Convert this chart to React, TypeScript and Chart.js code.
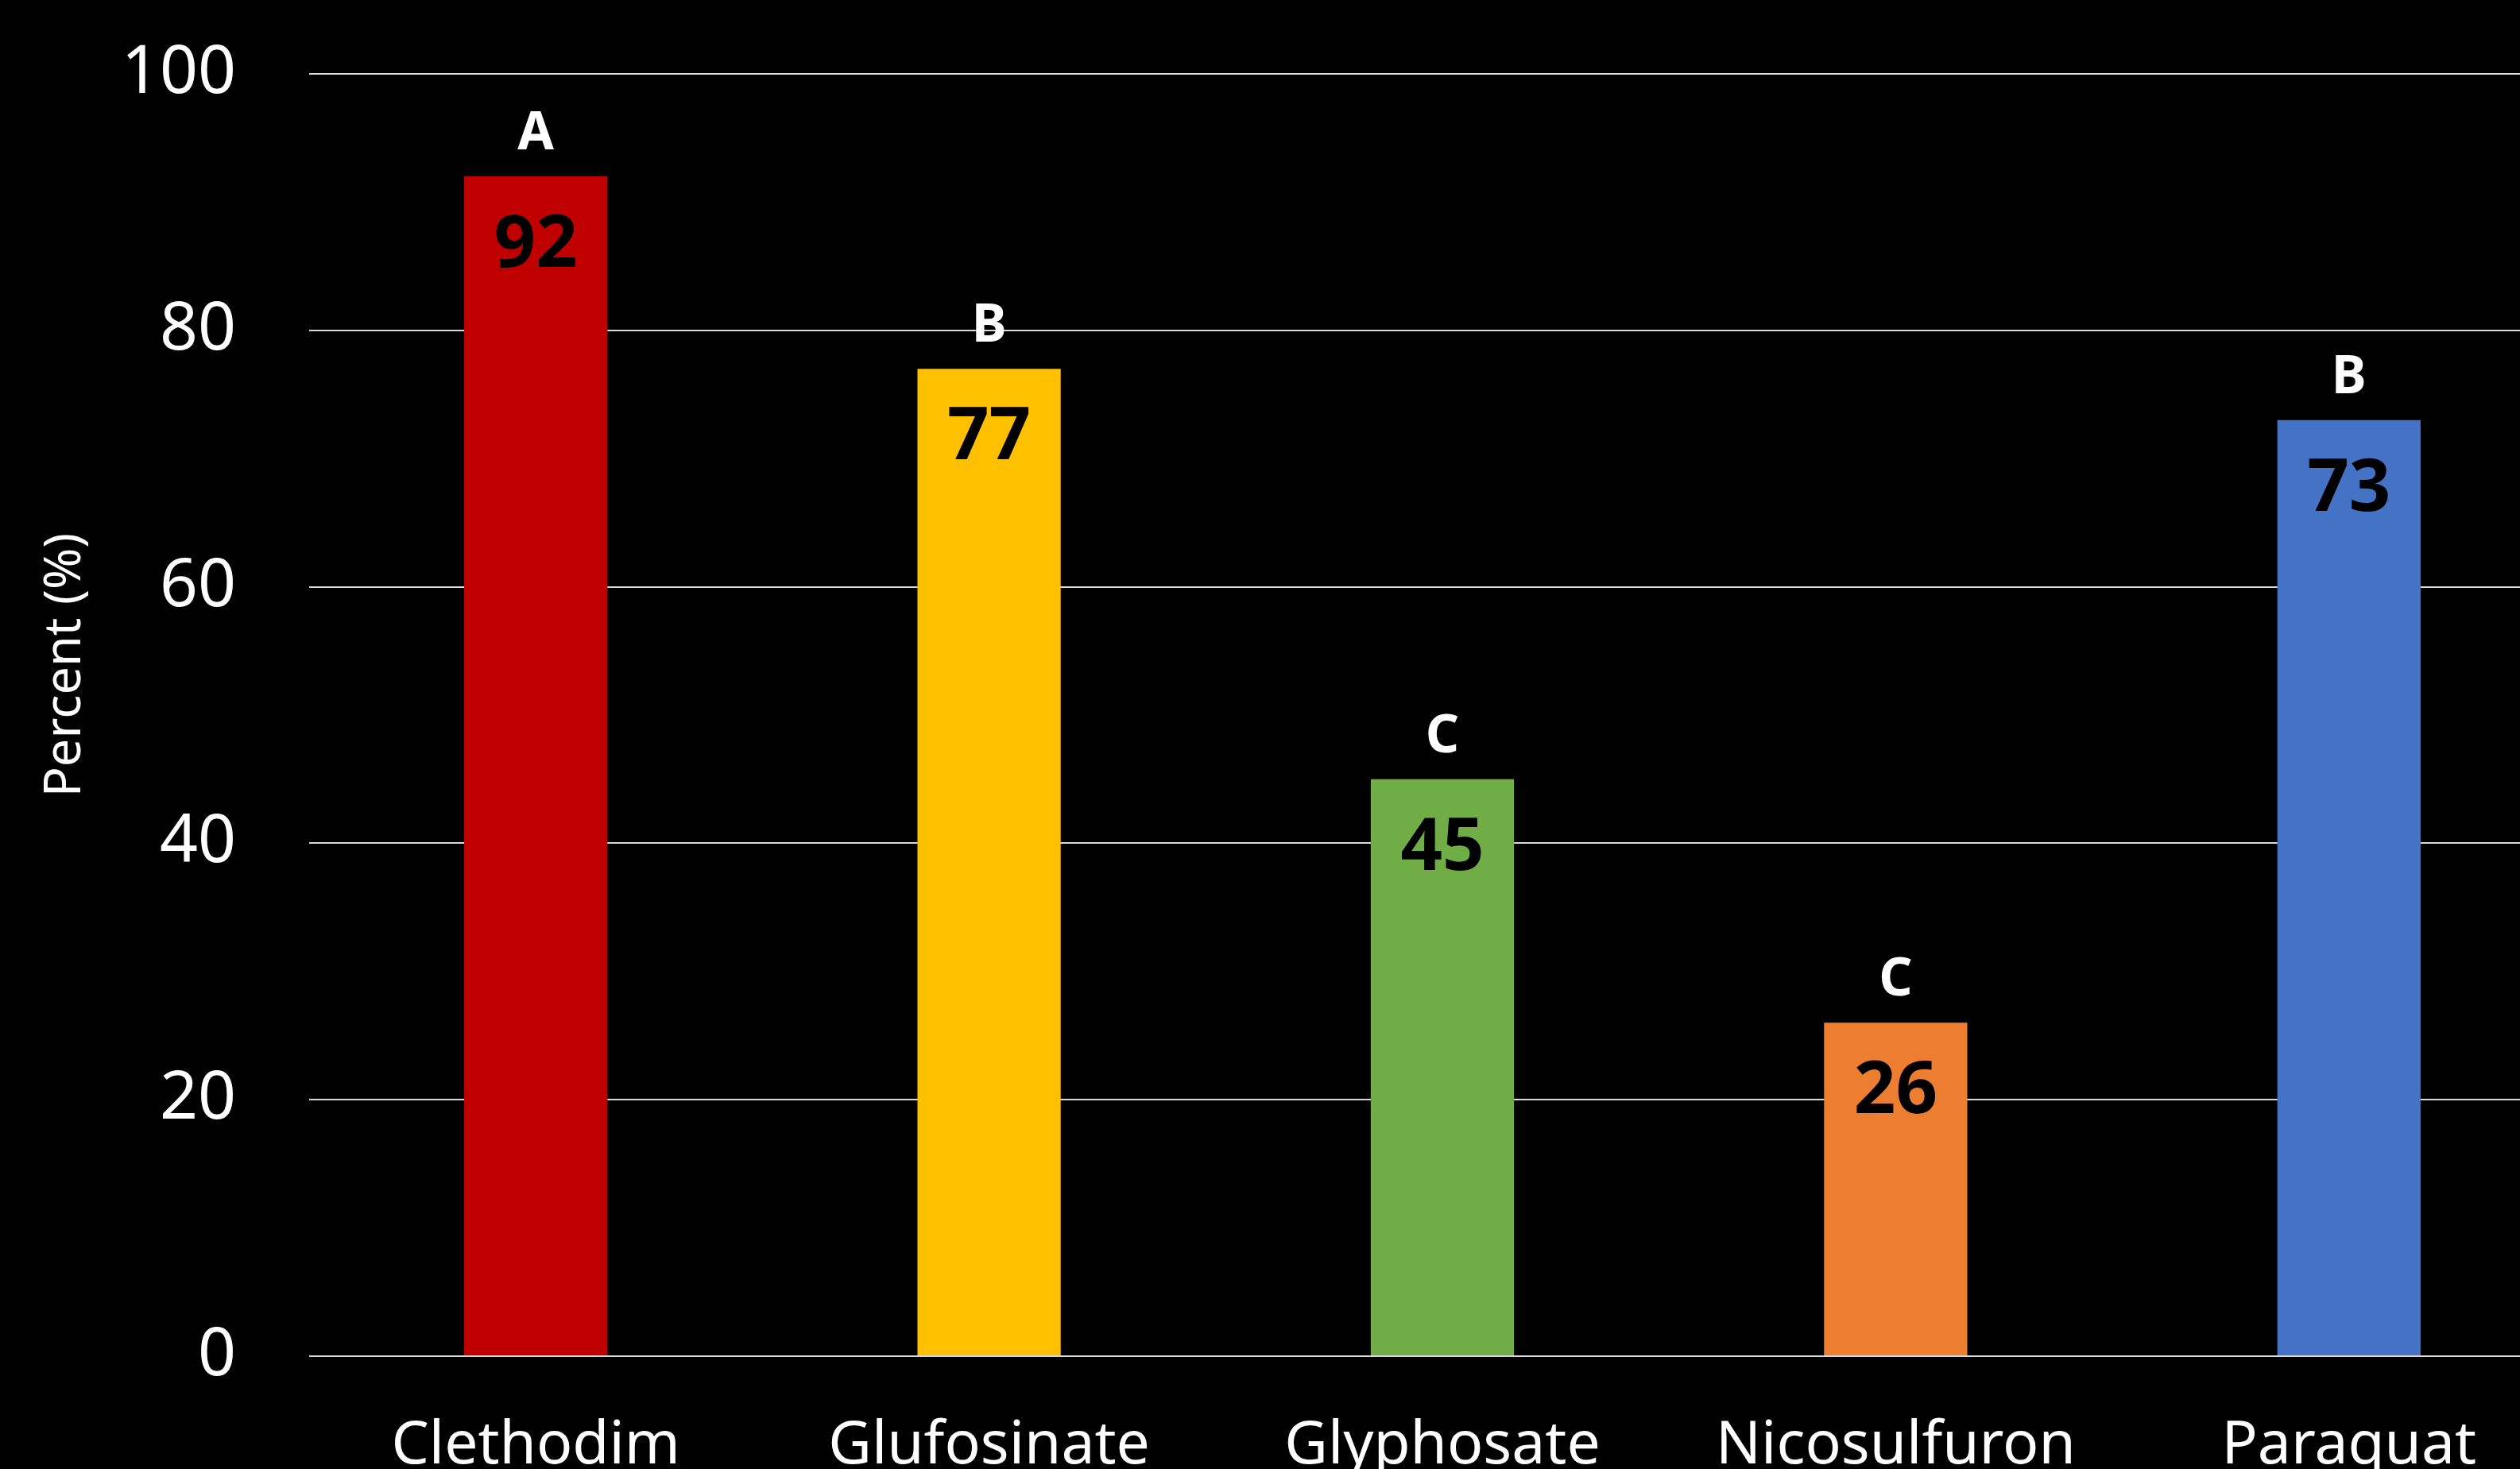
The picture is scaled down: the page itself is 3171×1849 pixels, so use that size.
import React, { useEffect, useRef } from "react";
import { Chart, registerables } from "chart.js";

Chart.register(...registerables);

const categories = ["Clethodim", "Glufosinate", "Glyphosate", "Nicosulfuron", "Paraquat"];
const values = [92, 77, 45, 26, 73];
const letters = ["A", "B", "C", "C", "B"];
const barColors = ["#C00000", "#FFC000", "#70AD47", "#ED7D31", "#4472C4"];
const yMin = 0;
const yMax = 100;
const yStep = 20;
const yAxisTitle = "Percent (%)";

const FONT = "'Noto Sans', 'Open Sans', sans-serif";
const CANVAS_W = 3241;
const CANVAS_H = 1900;
const PLOT_TOP_PAD = 93;
const PLOT_LEFT = 389;
const PLOT_BOTTOM = 1707;

const labelPlugin = {
  id: "barLabels",
  afterDatasetsDraw(chart: any) {
    const ctx = chart.ctx;
    const meta = chart.getDatasetMeta(0);
    ctx.save();
    ctx.textAlign = "center";
    ctx.textBaseline = "alphabetic";
    meta.data.forEach((bar: any, i: number) => {
      ctx.fillStyle = "#000000";
      ctx.font = `bold 92px ${FONT}`;
      ctx.fillText(String(values[i]), bar.x, bar.y + 114);
      ctx.fillStyle = "#FFFFFF";
      ctx.font = `bold 66px ${FONT}`;
      ctx.fillText(letters[i], bar.x, bar.y - 34);
    });
    ctx.restore();

    // axis title
    const area = chart.chartArea;
    ctx.save();
    ctx.translate(83, area.top + (area.bottom - area.top) * 0.461);
    ctx.rotate(-Math.PI / 2);
    ctx.fillStyle = "#FFFFFF";
    ctx.font = `63px ${FONT}`;
    ctx.textAlign = "center";
    ctx.textBaseline = "middle";
    ctx.fillText(yAxisTitle, 0, 0);
    ctx.restore();
  },
};

export default function App() {
  const canvasRef = useRef<HTMLCanvasElement | null>(null);

  useEffect(() => {
    if (!canvasRef.current) return;
    const chart = new Chart(canvasRef.current, {
      type: "bar",
      data: {
        labels: categories,
        datasets: [
          {
            data: values,
            backgroundColor: barColors,
            borderWidth: 0,
            barPercentage: 0.316,
            categoryPercentage: 1,
          },
        ],
      },
      options: {
        animation: false,
        responsive: false,
        devicePixelRatio: 1,
        layout: { padding: { top: PLOT_TOP_PAD, left: 0, right: 0, bottom: 0 } },
        plugins: {
          legend: { display: false },
          tooltip: { enabled: false },
        },
        scales: {
          x: {
            grid: { display: false, drawTicks: false },
            border: { display: false },
            ticks: {
              color: "#FFFFFF",
              font: { family: FONT, size: 75 },
              padding: 69,
              autoSkip: false,
              maxRotation: 0,
              minRotation: 0,
            },
            afterFit(scale: any) {
              scale.height = CANVAS_H - PLOT_BOTTOM;
            },
          },
          y: {
            min: yMin,
            max: yMax,
            grid: {
              color: "#D9D9D9",
              lineWidth: 2,
              drawTicks: true,
              tickLength: 92,
              tickColor: "rgba(0,0,0,0)",
            },
            border: { display: false },
            ticks: {
              stepSize: yStep,
              color: "#FFFFFF",
              font: { family: FONT, size: 84 },
              padding: 0,
            },
            afterFit(scale: any) {
              scale.width = PLOT_LEFT;
            },
          },
        },
      },
      plugins: [labelPlugin],
    });
    return () => chart.destroy();
  }, []);

  return (
    <div
      style={{
        position: "fixed",
        left: 0,
        top: 0,
        width: "100vw",
        height: "100vh",
        overflow: "hidden",
        background: "#000000",
      }}
    >
      <canvas
        ref={canvasRef}
        width={CANVAS_W}
        height={CANVAS_H}
        style={{ display: "block", width: CANVAS_W + "px", height: CANVAS_H + "px" }}
      />
    </div>
  );
}
